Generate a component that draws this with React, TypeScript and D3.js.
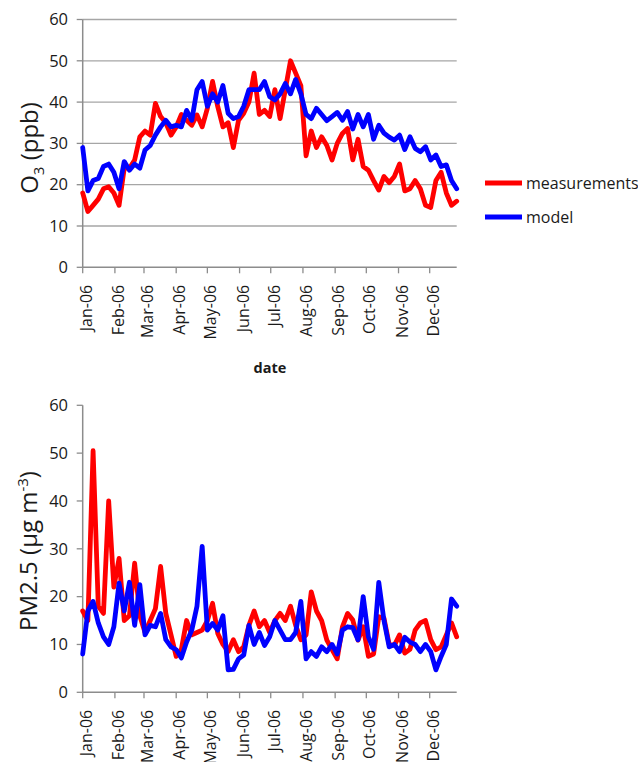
import React from 'react';
import * as d3 from 'd3';

// values every 5 days from 1 Jan 2006
const STEP_DAYS = 5;

const o3Measured = [
  18, 13.5, 15, 16.5, 19, 19.5, 18, 15, 24, 24, 26, 31.6, 33, 32, 39.7, 36.5, 35, 32, 34, 37,
  35.6, 34.4, 36.9, 34, 38.5, 45, 38.9, 34, 35, 29, 35.6, 37.3, 40, 47, 37, 38, 36.5, 43, 36, 43,
  50, 47, 44, 27, 33, 29, 31.6, 29.5, 26, 30, 32.4, 33.6, 26, 31, 24.4, 23.5, 21, 18.7, 22, 20.5,
  22, 25, 18.5, 19, 21, 19, 15, 14.5, 21, 23, 18, 15, 16
];
const o3Model = [
  29, 18.5, 21, 21.5, 24.4, 25, 23, 19, 25.6, 23.5, 25, 24, 28.4, 29.5, 32, 34, 35.6, 34, 34.4, 34,
  38, 35.6, 43, 45, 39, 42, 40, 44, 37.3, 36, 36.5, 39, 43, 43, 43, 45, 41.3, 40.5, 42, 44.5,
  42, 45.5, 42, 37, 36, 38.5, 37, 35.5, 36.5, 37.5, 35.6, 37.7, 33.5, 37, 34, 37, 31, 34.4, 32.5, 31.5,
  30.8, 32, 28.5, 31.6, 28.8, 28, 29.2, 26, 27.2, 24.4, 24.8, 21, 19
];
const pmMeasured = [
  17, 15, 50.5, 18, 16.5, 40, 22, 28, 15, 16, 27, 16, 12.5, 15, 17.5, 26.3, 16.5, 12, 7.5, 9,
  15, 12, 12.5, 13, 15, 18.6, 12.3, 10, 8.5, 11, 8.5, 9.5, 14, 17, 13.7, 15, 12.5, 15, 16.5, 15,
  18, 14, 11, 12, 21, 17, 15, 10.9, 8.9, 7, 13.7, 16.5, 15.1, 10.9, 13.7, 7.5, 8, 15.8, 15.5, 10,
  9.8, 12, 8.2, 9, 13, 14.5, 15, 11, 8.9, 9.5, 12, 14.5, 11.6
];
const pmModel = [
  8, 17, 19, 14.5, 11.6, 10, 13.7, 22.8, 17, 23, 14, 22.5, 12, 14, 13.7, 16.5, 11, 9.5, 8.9, 7.2,
  10.5, 13, 18, 30.5, 13, 14.4, 13, 16, 4.7, 4.8, 7, 7.8, 14, 10, 12.5, 9.8, 11.6, 15, 13, 11,
  11, 12.5, 19, 7, 8.5, 7.5, 9.5, 8.5, 10, 8, 13, 13.7, 13.5, 11, 20, 11.6, 9, 23, 15, 9.5,
  10, 8.5, 11.5, 10.5, 10, 8.5, 10, 8.5, 4.7, 7.5, 10, 19.5, 18
];

const yTicks = [0, 10, 20, 30, 40, 50, 60];
const seriesNames = ['measurements', 'model'];
const seriesColors = ['#ff0000', '#0000ff'];

const start = new Date(2006, 0, 1);
const end = new Date(2006, 11, 27);
const dates = o3Measured.map((_, i) => d3.timeDay.offset(start, i * STEP_DAYS));
const months = d3.timeMonth.range(start, new Date(2006, 11, 2));
const fmt = d3.timeFormat('%b-%y');

const FONT = '"Open Sans", sans-serif';
const AXIS = '#8c8c8c';
const TEXT = '#1a1a1a';

const x = d3.scaleTime().domain([start, end]).range([82.7, 456.7]);

function Panel({ top, bottom, series, grid, label }: any) {
  const y = d3.scaleLinear().domain([0, 60]).range([bottom, top]);
  const line = d3.line<number>()
    .x((_, i) => x(dates[i]))
    .y(d => y(d));
  const [x0, x1] = x.range();
  return (
    <g>
      {grid && yTicks.filter(t => t > 0).map(t => (
        <line key={'g' + t} x1={x0} x2={x1} y1={y(t)} y2={y(t)} stroke="#a6a6a6" strokeWidth={1.3} />
      ))}
      <line x1={x0} x2={x0} y1={top} y2={bottom} stroke={AXIS} strokeWidth={1.5} />
      <line x1={x0} x2={x1} y1={bottom} y2={bottom} stroke={AXIS} strokeWidth={1.5} />
      {yTicks.map(t => (
        <g key={'y' + t}>
          <line x1={x0 - 6} x2={x0} y1={y(t)} y2={y(t)} stroke={AXIS} strokeWidth={1.3} />
          <text x={68} y={y(t)} dy="0.35em" textAnchor="end" fontSize={16.5} fill={TEXT}>{t}</text>
        </g>
      ))}
      {months.map(m => (
        <g key={m.getTime()}>
          <line x1={x(m)} x2={x(m)} y1={bottom} y2={bottom + 6} stroke={AXIS} strokeWidth={1.3} />
          <text transform={`translate(${x(m) + 3.5},${bottom + 17.5}) rotate(-90)`} dy="0.35em"
            textAnchor="end" fontSize={16} fill={TEXT}>{fmt(m)}</text>
        </g>
      ))}
      {series.map((s: number[], i: number) => (
        <path key={i} d={line(s) || ''} fill="none" stroke={seriesColors[i]} strokeWidth={4.8}
          strokeLinejoin="round" strokeLinecap="round" />
      ))}
      {label}
    </g>
  );
}

export default function App() {
  return (
    <svg width={638} height={762} style={{ position: 'absolute', left: 0, top: 0, background: '#fff' }}
      fontFamily={FONT}>
      <Panel top={19.5} bottom={267.3} grid series={[o3Measured, o3Model]}
        label={
          <text transform="translate(38,148) rotate(-90)" textAnchor="middle" fontSize={24} fill={TEXT}>
            O<tspan fontSize={15} dy={6}>3</tspan><tspan dy={-6}> (ppb)</tspan>
          </text>
        } />
      <text x={270} y={373} textAnchor="middle" fontSize={14.5} fontWeight="bold" fill={TEXT}>date</text>
      {seriesNames.map((n, i) => (
        <g key={n}>
          <line x1={485} x2={522} y1={183 + i * 34} y2={183 + i * 34} stroke={seriesColors[i]} strokeWidth={4.8} />
          <text x={526} y={183 + i * 34} dy="0.35em" fontSize={16} fill={TEXT}>{n}</text>
        </g>
      ))}
      <Panel top={405.3} bottom={692.3} grid={false} series={[pmMeasured, pmModel]}
        label={
          <text transform="translate(37,551) rotate(-90)" textAnchor="middle" fontSize={24} fill={TEXT}>
            PM2.5 (μg m<tspan fontSize={15} dy={-9}>-3</tspan><tspan dy={9}>)</tspan>
          </text>
        } />
    </svg>
  );
}
